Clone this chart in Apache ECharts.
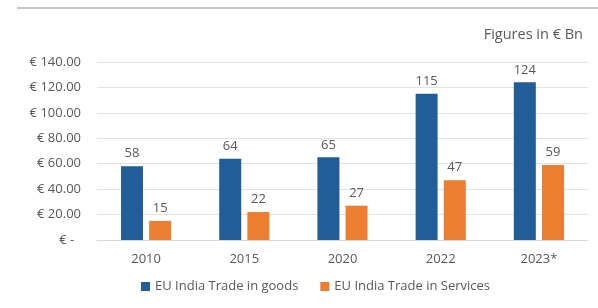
<!DOCTYPE html>
<html>
<head>
<meta charset="utf-8">
<script src="https://cdn.jsdelivr.net/npm/echarts@6/dist/echarts.min.js"></script>
<style>
  html, body { margin: 0; padding: 0; background: #fff; }
  #chart { width: 598px; height: 308px; }
</style>
</head>
<body>
<div id="chart"></div>
<script>
const years = ['2010', '2015', '2020', '2022', '2023*'];
const goods = [58, 64, 65, 115, 124];
const services = [15, 22, 27, 47, 59];
const yTicks = [0, 20, 40, 60, 80, 100, 120, 140];

const textColor = '#595959';
const fontFamily = '"Open Sans", "Noto Sans", sans-serif';

const chart = echarts.init(document.getElementById('chart'));

chart.setOption({
  textStyle: { fontFamily: fontFamily },
  animation: false,
  graphic: [
    {
      type: 'line',
      shape: { x1: 17, y1: 8, x2: 598, y2: 8 },
      style: { stroke: '#c8c8c8', lineWidth: 2 }
    },
    {
      type: 'text',
      right: 15,
      top: 27,
      style: { text: 'Figures in € Bn', fill: textColor, font: '14.5px ' + fontFamily }
    }
  ],
  grid: { left: 97, right: 10, top: 62, bottom: 68 },
  legend: {
    bottom: 10,
    left: 136,
    itemWidth: 9,
    itemHeight: 9,
    itemGap: 22,
    icon: 'rect',
    textStyle: { color: textColor, fontSize: 13, fontFamily: fontFamily }
  },
  xAxis: {
    type: 'category',
    data: years,
    axisTick: { show: false },
    axisLine: { lineStyle: { color: '#d9d9d9' } },
    axisLabel: { color: textColor, fontSize: 13, margin: 13 }
  },
  yAxis: {
    type: 'value',
    min: yTicks[0],
    max: yTicks[yTicks.length - 1],
    interval: 20,
    axisLine: { show: false },
    axisTick: { show: false },
    splitLine: { lineStyle: { color: '#e3e3e3' } },
    axisLabel: {
      color: textColor,
      fontSize: 13,
      margin: 16,
      formatter: v => v === 0 ? '€ -  ' : '€ ' + v.toFixed(2)
    }
  },
  series: [
    {
      name: 'EU India Trade in goods',
      type: 'bar',
      data: goods,
      barWidth: 22,
      barGap: '28%',
      itemStyle: { color: '#215d99' },
      label: { show: true, position: 'top', color: textColor, fontSize: 13, distance: 6 }
    },
    {
      name: 'EU India Trade in Services',
      type: 'bar',
      data: services,
      barWidth: 22,
      itemStyle: { color: '#ed7d31' },
      label: { show: true, position: 'top', color: textColor, fontSize: 13, distance: 6 }
    }
  ]
});
</script>
</body>
</html>
